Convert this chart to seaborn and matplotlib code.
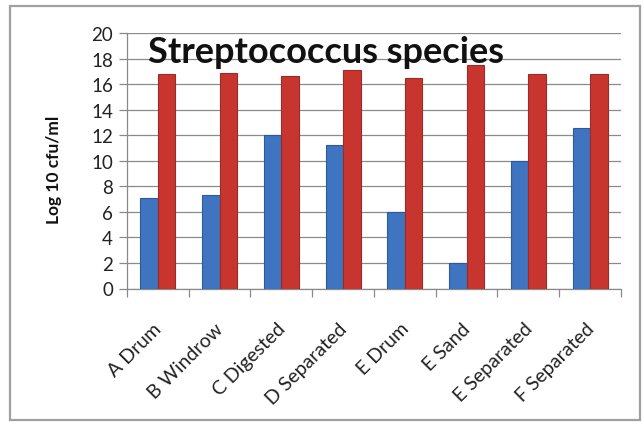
import matplotlib
matplotlib.use("Agg")
import matplotlib.pyplot as plt
import matplotlib.transforms as mtransforms
from matplotlib.patches import Rectangle
import seaborn as sns
import pandas as pd
import numpy as np

categories = ["A Drum", "B Windrow", "C Digested", "D Separated",
              "E Drum", "E Sand", "E Separated", "F Separated"]
series_names = ["Series 1", "Series 2"]
series1 = [7.1, 7.3, 12.0, 11.2, 6.0, 2.0, 10.0, 12.6]
series2 = [16.8, 16.9, 16.6, 17.1, 16.5, 17.5, 16.8, 16.8]
yticks = [0, 2, 4, 6, 8, 10, 12, 14, 16, 18, 20]
title = "Streptococcus species"
ylabel = "Log 10 cfu/ml"

df = pd.DataFrame({
    "category": categories * 2,
    "series": [series_names[0]] * len(categories) + [series_names[1]] * len(categories),
    "value": series1 + series2,
})

sns.set_style("white")
plt.rcParams["font.family"] = ["Lato", "DejaVu Sans"]

fig = plt.figure(figsize=(6.44, 4.27), dpi=100)
ax = fig.add_axes([127 / 644, 1 - 289.5 / 427, (621 - 127) / 644, (289.5 - 34) / 427])

# outer frame
fig.patches.append(Rectangle((10 / 644, 6 / 427), 630 / 644, 414 / 427,
                             transform=fig.transFigure, fill=False,
                             edgecolor="#a0a0a0", linewidth=1.6, zorder=0))

palette = {series_names[0]: "#3E74C0", series_names[1]: "#C8352F"}
sns.barplot(data=df, x="category", y="value", hue="series", order=categories,
            hue_order=series_names, palette=palette, width=0.57, gap=0,
            saturation=1, legend=False, ax=ax, zorder=3)
for i, p in enumerate(ax.patches):
    p.set_edgecolor("#2d5a9a" if i < len(categories) else "#9e2a25")
    p.set_linewidth(0.8)

ax.set_ylim(0, 20)
ax.set_xlim(-0.5, len(categories) - 0.5)
ax.set_yticks(yticks)
ax.set_yticklabels([str(t) for t in yticks], fontsize=13.5, color="#222222")
ax.yaxis.grid(True, color="#8a8a8a", linewidth=0.9, zorder=0)
ax.set_axisbelow(True)
for s in ["top", "right"]:
    ax.spines[s].set_visible(False)
for s in ["left", "bottom"]:
    ax.spines[s].set_color("#8a8a8a")
    ax.spines[s].set_linewidth(0.9)
ax.tick_params(axis="y", which="major", length=6, width=0.9, color="#8a8a8a",
               direction="out", pad=4, left=True)

# x ticks: labels at centers, tick marks at boundaries
ax.set_xticks(range(len(categories)))
ax.set_xticklabels(categories, rotation=45, ha="right", va="baseline",
                   rotation_mode="anchor", fontsize=14, color="#222222")
ax.tick_params(axis="x", which="major", length=0, pad=0)
ax.set_xticks(np.arange(-0.5, len(categories), 1.0), minor=True)
ax.tick_params(axis="x", which="minor", length=6, width=0.9, color="#8a8a8a",
               direction="out", bottom=True)
offset = mtransforms.ScaledTranslation(5 / 100, -41 / 100, fig.dpi_scale_trans)
for lab in ax.get_xticklabels():
    lab.set_transform(lab.get_transform() + offset)

ax.set_xlabel("")
ax.set_ylabel("")
ax.text((54 - 127) / 494, (289.5 - 170) / 255.5, ylabel, transform=ax.transAxes,
        rotation=90, ha="center", va="center", fontsize=12.5, fontweight="bold",
        color="#111111")
ax.text((148 - 127) / 494, (289.5 - 63) / 255.5, title, transform=ax.transAxes,
        ha="left", va="baseline", fontsize=26, fontweight="bold", color="#111111",
        zorder=5)

fig.savefig("out.png", dpi=100)
